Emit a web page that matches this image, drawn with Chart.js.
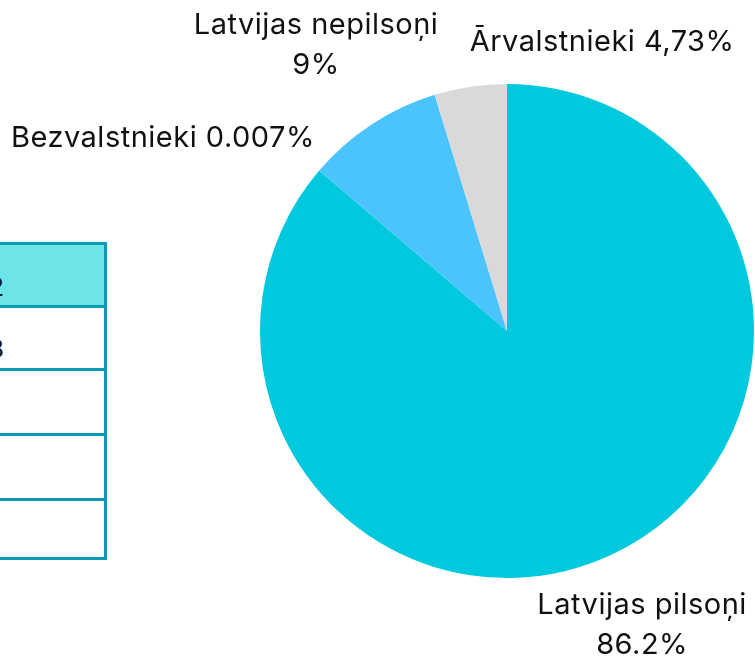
<!DOCTYPE html>
<html>
<head>
<meta charset="utf-8">
<script src="https://cdn.jsdelivr.net/npm/chart.js@4.4.1/dist/chart.umd.min.js"></script>
<style>
  html, body { margin: 0; padding: 0; background: #fff; }
  #wrap { position: relative; width: 755px; height: 661px; overflow: hidden; }
  #pieChart { position: absolute; left: 0; top: 0; }
  .cell { position: absolute; left: -20px; width: 121px; border: 3px solid #0a9cb4; box-sizing: content-box; }
  .txt { position: absolute; left: -100px; width: 104px; text-align: right; font: 26px Inter, sans-serif; color: #111; }
</style>
</head>
<body>
<div id="wrap">
  <div class="cell" style="top:242px;height:60px;background:#6ce4e8;"></div>
  <div class="cell" style="top:305px;height:60px;"></div>
  <div class="cell" style="top:368px;height:62px;"></div>
  <div class="cell" style="top:433px;height:62px;"></div>
  <div class="cell" style="top:498px;height:56px;"></div>
  <div class="txt" style="top:271px;">2022</div>
  <div class="txt" style="top:333px;">2023</div>
  <canvas id="pieChart" width="755" height="661"></canvas>
</div>
<script>
const categories = ['Latvijas pilsoņi', 'Bezvalstnieki', 'Latvijas nepilsoņi', 'Ārvalstnieki'];
const shares = [86.2, 0.007, 9, 4.73];
const shareText = ['86.2%', '0.007%', '9%', '4,73%'];
const sliceColors = ['#00c9dd', '#0a9cb4', '#4bc4fd', '#d9d9d9'];

// label lines per slice and where they sit (in pie radii from the centre)
const labelLines = [
    [categories[0], shareText[0]],
    [categories[1] + ' ' + shareText[1]],
    [categories[2], shareText[2]],
    [categories[3] + ' ' + shareText[3]]
];
const labelSpots = [[0.547, 1.19], [-1.393, -0.781], [-0.773, -1.158], [0.385, -1.17]];

const outsideLabels = {
    id: 'outsideLabels',
    afterDatasetsDraw(chart) {
        const ctx = chart.ctx;
        const arcs = chart.getDatasetMeta(0).data;
        ctx.save();
        ctx.font = '29px Inter, sans-serif';
        ctx.letterSpacing = '0.5px';
        ctx.fillStyle = '#111';
        ctx.textAlign = 'center';
        ctx.textBaseline = 'middle';
        arcs.forEach((arc, i) => {
            const r = arc.outerRadius;
            const x = arc.x + labelSpots[i][0] * r;
            const y = arc.y + labelSpots[i][1] * r;
            const lines = labelLines[i];
            const lh = 40;
            lines.forEach((t, j) => {
                ctx.fillText(t, x, y + (j - (lines.length - 1) / 2) * lh);
            });
        });
        ctx.restore();
    }
};

document.addEventListener("DOMContentLoaded", function () {
    let ctx = document.getElementById('pieChart').getContext('2d');
    new Chart(ctx, {
        type: 'pie',
        data: {
            labels: categories,
            datasets: [{
                data: shares,
                backgroundColor: sliceColors,
                borderWidth: 0
            }]
        },
        options: {
            responsive: false,
            animation: false,
            layout: { padding: { left: 260, right: 1, top: 84, bottom: 83 } },
            plugins: { legend: { display: false }, tooltip: { enabled: false } }
        },
        plugins: [outsideLabels]
    });
});
</script>
</body>
</html>
